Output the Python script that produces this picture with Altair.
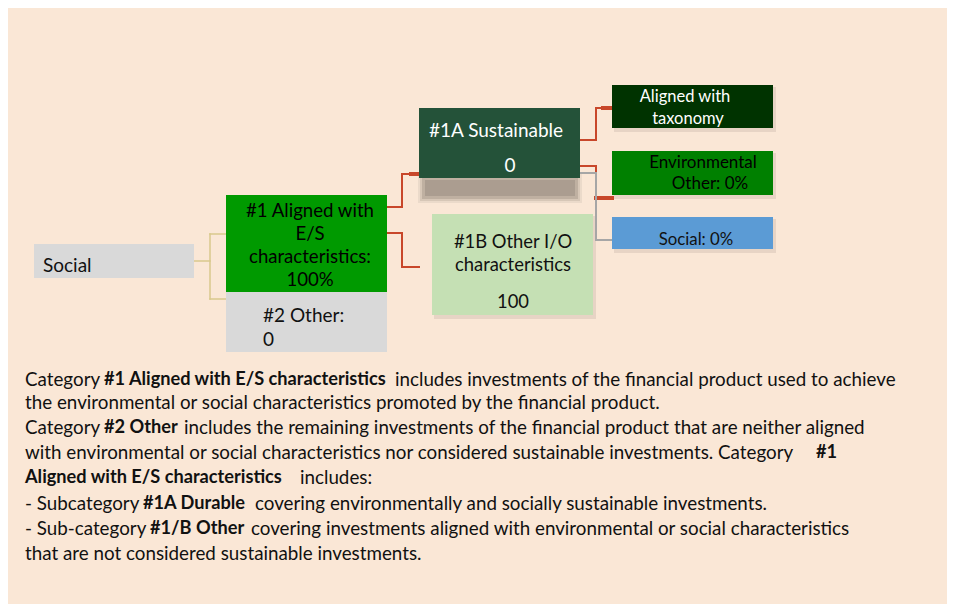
import altair as alt
import pandas as pd

# ---------------- data ----------------
# Boxes of the diagram
box_names = ["Social", "#1 Aligned", "#2 Other", "#1A Sustainable", "#1B Other",
             "Taxonomy", "Env Other", "Social 0%"]
box_x1 = [34, 226, 226, 419, 432, 612, 612, 612]
box_x2 = [194, 387, 387, 580, 593, 773, 773, 773]
box_y1 = [244, 195, 292, 108, 214, 85, 151, 217]
box_y2 = [278, 292, 352, 178, 315, 128, 195, 249]
box_fill = ["#D9D9D9", "#009A00", "#D9D9D9", "#245239", "#C5E0B4",
            "#003300", "#008000", "#5B9BD5"]
box_shadow = [False, False, False, False, True, True, True, True]

# Connector segments (x, y, x2, y2, colour, width)
seg_x1 = [194, 210, 210, 210, 387, 402, 402, 411, 387, 402, 402,
          580, 596, 596, 603, 580, 596, 596, 596, 580, 596, 596]
seg_y1 = [261, 234, 234, 299, 207, 207, 174, 174, 233, 233, 267,
          140, 140, 108, 108, 166, 166, 198, 198, 173, 173, 240]
seg_x2 = [210, 210, 226, 226, 402, 402, 419, 419, 402, 402, 419,
          596, 596, 612, 612, 596, 596, 612, 612, 596, 596, 612]
seg_y2 = [261, 299, 234, 299, 207, 174, 174, 174, 233, 267, 267,
          140, 108, 108, 108, 166, 198, 198, 198, 173, 240, 240]
RED, TAN, GREY = "#C8472A", "#D8C98C", "#A6A6A6"
seg_col = [TAN, TAN, TAN, TAN, RED, RED, RED, RED, RED, RED, RED,
           RED, RED, RED, RED, RED, RED, RED, RED, GREY, GREY, GREY]
seg_w = [1.5, 1.5, 1.5, 1.5, 2, 2, 2, 4, 2, 2, 2,
         2, 2, 2, 4, 2, 2, 2, 4, 2, 2, 2]

# Box labels
lab_text = ["Social",
            "#1 Aligned with", "E/S", "characteristics:", "100%",
            "#2 Other:", "0",
            "#1A Sustainable", "0",
            "#1B Other I/O", "characteristics", "100",
            "Aligned with", "taxonomy",
            "Environmental", "Other: 0%",
            "Social: 0%"]
lab_x = [43, 310, 310, 310, 310, 263, 263, 429, 510, 513, 513, 513,
         685, 688, 703, 710, 696]
lab_y = [266, 211, 234, 257, 280, 316, 340, 131, 166, 242, 265, 302,
         97, 119, 163, 184, 240]
lab_align = ["left", "center", "center", "center", "center", "left", "left",
             "left", "center", "center", "center", "center",
             "center", "center", "center", "center", "center"]
lab_col = ["#111111", "#000000", "#000000", "#000000", "#000000", "#111111", "#111111",
           "#FFFFFF", "#FFFFFF", "#111111", "#111111", "#111111",
           "#FFFFFF", "#FFFFFF", "#000000", "#000000", "#111111"]
lab_size = [19, 18.6, 18.6, 18.6, 18.6, 19, 19, 19, 19, 18.4, 18.4, 18.4,
            16.5, 16.5, 17, 17, 16.8]

# Explanatory paragraph segments
par_text = ["Category", "#1 Aligned with E/S characteristics",
            "includes investments of the financial product used to achieve",
            "the environmental or social characteristics promoted by the financial product.",
            "Category", "#2 Other",
            "includes the remaining investments of the financial product that are neither aligned",
            "with environmental or social characteristics nor considered sustainable investments. Category",
            "#1",
            "Aligned with E/S characteristics", "includes:",
            "- Subcategory", "#1A Durable",
            "covering environmentally and socially sustainable investments.",
            "- Sub-category", "#1/B Other",
            "covering investments aligned with environmental or social characteristics",
            "that are not considered sustainable investments."]
par_x = [25, 104, 395, 25, 25, 104, 184, 25, 816, 25, 300, 25, 143, 255, 25, 150, 251, 25]
par_y = [380, 380, 380, 403, 428, 428, 428, 453, 453, 478, 478, 504, 504, 504, 529, 529, 529, 554]
par_bold = [False, True, False, False, False, True, False, False, True,
            True, False, False, True, False, False, True, False, False]

# ---------------- frames ----------------
boxes = pd.DataFrame({"name": box_names, "x1": box_x1, "x2": box_x2,
                      "y1": box_y1, "y2": box_y2, "fill": box_fill,
                      "sh": box_shadow})
shadow = boxes[boxes["sh"]].copy()
shadow["x1"] = shadow["x1"] + 2
shadow["x2"] = shadow["x2"] + 3
shadow["y1"] = shadow["y1"] + 2
shadow["y2"] = shadow["y2"] + 4
segs = pd.DataFrame({"x": seg_x1, "y": seg_y1, "x2": seg_x2, "y2": seg_y2,
                     "c": seg_col, "w": seg_w})
labs = pd.DataFrame({"t": lab_text, "x": lab_x, "y": lab_y, "a": lab_align,
                     "c": lab_col, "s": lab_size})
par = pd.DataFrame({"t": par_text, "x": par_x, "y": par_y, "b": par_bold})

W, H = 939, 596
XS = alt.Scale(domain=[8, 8 + W], zero=False, nice=False)
YS = alt.Scale(domain=[8, 8 + H], zero=False, nice=False, reverse=True)
FONT = "Lato"

panel = alt.Chart(pd.DataFrame({"x1": [7], "x2": [955], "y1": [4], "y2": [608]})).mark_rect(
    color="#FAE7D6").encode(
    x=alt.X("x1:Q", scale=XS, axis=None), x2="x2:Q",
    y=alt.Y("y1:Q", scale=YS, axis=None), y2="y2:Q")

# blurred shadow under #1A (stacked translucent layers)
sh1a = alt.Chart(pd.DataFrame({
    "x1": [418, 420, 422, 425],
    "x2": [582, 580, 578, 575],
    "y1": [174, 176, 178, 180],
    "y2": [203, 201, 199, 196],
    "o": [0.12, 0.2, 0.3, 0.35]})).mark_rect(color="#877B70").encode(
    x=alt.X("x1:Q", scale=XS, axis=None), x2="x2:Q",
    y=alt.Y("y1:Q", scale=YS, axis=None), y2="y2:Q",
    opacity=alt.Opacity("o:Q", scale=None))

shadows = alt.Chart(shadow).mark_rect(color="#9A8E84", opacity=0.2).encode(
    x=alt.X("x1:Q", scale=XS, axis=None), x2="x2:Q",
    y=alt.Y("y1:Q", scale=YS, axis=None), y2="y2:Q")

rects = alt.Chart(boxes).mark_rect().encode(
    x=alt.X("x1:Q", scale=XS, axis=None), x2="x2:Q",
    y=alt.Y("y1:Q", scale=YS, axis=None), y2="y2:Q",
    color=alt.Color("fill:N", scale=None))

lines = alt.Chart(segs).mark_rule(strokeCap="square").encode(
    x=alt.X("x:Q", scale=XS, axis=None), x2="x2:Q",
    y=alt.Y("y:Q", scale=YS, axis=None), y2="y2:Q",
    color=alt.Color("c:N", scale=None),
    strokeWidth=alt.StrokeWidth("w:Q", scale=None))

def lab_layer(align):
    return alt.Chart(labs[labs["a"] == align]).mark_text(
        align=align, baseline="middle", font=FONT).encode(
        x=alt.X("x:Q", scale=XS, axis=None),
        y=alt.Y("y:Q", scale=YS, axis=None),
        text="t:N",
        color=alt.Color("c:N", scale=None),
        size=alt.Size("s:Q", scale=None))

def par_layer(bold):
    return alt.Chart(par[par["b"] == bold]).mark_text(
        align="left", baseline="middle", font=FONT,
        fontSize=18.2 if bold else 18.8,
        fontWeight="bold" if bold else "normal", color="#111111").encode(
        x=alt.X("x:Q", scale=XS, axis=None),
        y=alt.Y("y:Q", scale=YS, axis=None),
        text="t:N")

chart = alt.layer(
    panel, sh1a, shadows, lines, rects,
    lab_layer("left"), lab_layer("center"),
    par_layer(False), par_layer(True)
).properties(width=W, height=H, padding=0, autosize="none").configure_view(
    stroke=None).configure(background="#FFFFFF")

chart.save("out.html", embed_options={"renderer": "svg", "actions": False})
